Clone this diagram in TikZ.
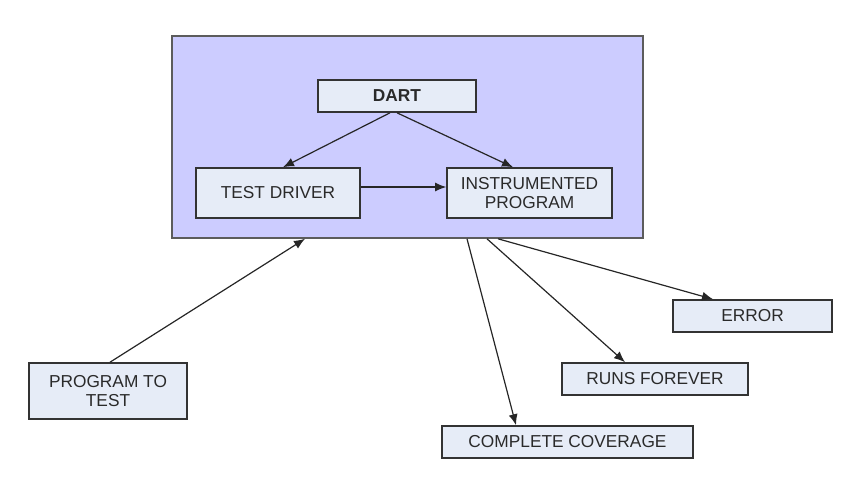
\documentclass[tikz,border=0pt]{standalone}
\usepackage{fontspec}
\setmainfont{Liberation Sans}
\usetikzlibrary{arrows.meta}
\definecolor{bigfill}{HTML}{CCCCFF}
\definecolor{boxfill}{HTML}{E6ECF7}
\definecolor{edge}{HTML}{333333}
\definecolor{txt}{HTML}{2A2A2A}
\begin{document}
\begin{tikzpicture}[x=1pt,y=-1pt,
  bigbox/.style={draw=edge!80,fill=bigfill,line width=1.6pt,inner sep=0pt},
  smallbox/.style={draw=edge,fill=boxfill,line width=1.6pt,inner sep=0pt,
    font=\fontsize{17.3}{18.5}\selectfont,text=txt,align=center},
  arr/.style={draw=black!85,line width=1.2pt,-{Latex[length=11pt,width=9pt]}}]
\useasboundingbox (0,0) rectangle (864,491);
\node[bigbox,minimum width=471pt,minimum height=202pt] (big) at (407.5,137) {};
\node[smallbox,minimum width=158pt,minimum height=32pt,font=\fontsize{17.3}{18.5}\selectfont\bfseries] (dart) at (397,96) {DART};
\node[smallbox,minimum width=164pt,minimum height=50pt] (td) at (278,193) {TEST DRIVER};
\node[smallbox,minimum width=165pt,minimum height=50pt] (ip) at (529.5,193) {INSTRUMENTED\\PROGRAM};
\node[smallbox,minimum width=158pt,minimum height=56pt] (ptt) at (108,391) {PROGRAM TO\\TEST};
\node[smallbox,minimum width=159pt,minimum height=32pt] (err) at (752.5,316) {ERROR};
\node[smallbox,minimum width=186pt,minimum height=32pt] (rf) at (655,379) {RUNS FOREVER};
\node[smallbox,minimum width=251pt,minimum height=32pt] (cc) at (567.5,442) {COMPLETE COVERAGE};
\draw[arr] ([xshift=-7pt]dart.south) -- ([xshift=5pt]td.north);
\draw[arr] (dart.south) -- ([xshift=-16.5pt]ip.north);
\draw[arr] ([yshift=6pt]td.east) -- ([yshift=6pt]ip.west);
\draw[arr] ([xshift=2pt]ptt.north) -- ([xshift=-102.5pt]big.south);
\draw[arr] ([xshift=59.5pt]big.south) -- ([xshift=-51.5pt]cc.north);
\draw[arr] ([xshift=79.5pt]big.south) -- ([xshift=-30pt]rf.north);
\draw[arr] ([xshift=90.5pt]big.south) -- ([xshift=-39.5pt]err.north);
\end{tikzpicture}
\end{document}
